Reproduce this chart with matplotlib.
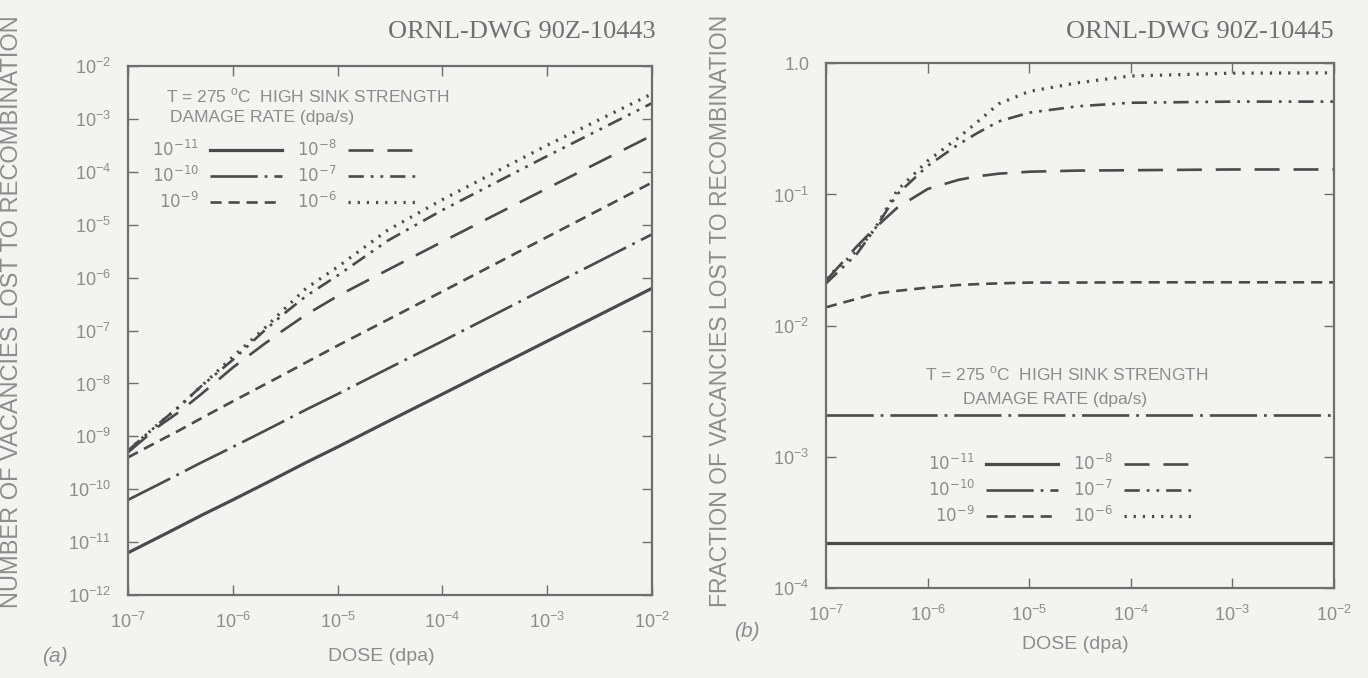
import math
import matplotlib
matplotlib.use("Agg")
import matplotlib.pyplot as plt
from matplotlib.ticker import FixedLocator, FuncFormatter, NullLocator

plt.rcParams['font.family'] = ['Liberation Sans', 'DejaVu Sans']
plt.rcParams['lines.scale_dashes'] = False

# ---------------- data ----------------
dose = [1e-7, 2e-7, 3e-7, 5e-7, 1e-6, 2e-6, 3e-6, 5e-6, 1e-5, 3e-5, 1e-4, 1e-3, 1e-2]

rate_labels = [r'$10^{-11}$', r'$10^{-10}$', r'$10^{-9}$', r'$10^{-8}$', r'$10^{-7}$', r'$10^{-6}$']

# (a) number of vacancies lost to recombination
n_1e11 = [6.3e-12, 1.26e-11, 1.9e-11, 3.2e-11, 6.3e-11, 1.26e-10, 1.9e-10, 3.2e-10, 6.3e-10, 1.9e-9, 6.3e-9, 6.3e-8, 6.3e-7]
n_1e10 = [6.3e-11, 1.26e-10, 1.9e-10, 3.2e-10, 6.3e-10, 1.26e-9, 1.9e-9, 3.2e-9, 6.3e-9, 1.9e-8, 6.3e-8, 6.5e-7, 6.6e-6]
n_1e9 = [4.0e-10, 8.3e-10, 1.26e-9, 2.2e-9, 4.6e-9, 9.5e-9, 1.45e-8, 2.5e-8, 5.2e-8, 1.6e-7, 5.5e-7, 5.9e-6, 6.3e-5]
n_1e8 = [5.0e-10, 1.6e-9, 2.8e-9, 6.3e-9, 2.0e-8, 5.6e-8, 1.0e-7, 2.0e-7, 4.5e-7, 1.4e-6, 4.8e-6, 4.9e-5, 4.9e-4]
n_1e7 = [5.4e-10, 1.8e-9, 3.5e-9, 8.9e-9, 2.8e-8, 1.0e-7, 2.0e-7, 4.5e-7, 1.1e-6, 5.0e-6, 1.9e-5, 2.0e-4, 2.0e-3]
n_1e6 = [5.4e-10, 1.8e-9, 3.5e-9, 8.9e-9, 3.2e-8, 1.1e-7, 2.4e-7, 6.3e-7, 1.6e-6, 7.9e-6, 3.0e-5, 3.2e-4, 3.0e-3]

# (b) fraction of vacancies lost to recombination
f_1e11 = [2.2e-4] * 13
f_1e10 = [2.1e-3] * 13
f_1e9 = [0.0138, 0.016, 0.0175, 0.0184, 0.0195, 0.0204, 0.0207, 0.021, 0.0213, 0.0213, 0.0214, 0.0214, 0.0214]
f_1e8 = [0.022, 0.040, 0.055, 0.079, 0.11, 0.129, 0.137, 0.144, 0.149, 0.152, 0.153, 0.155, 0.155]
f_1e7 = [0.021, 0.035, 0.054, 0.10, 0.165, 0.24, 0.29, 0.36, 0.42, 0.47, 0.50, 0.51, 0.51]
f_1e6 = [0.023, 0.037, 0.054, 0.107, 0.18, 0.27, 0.35, 0.49, 0.61, 0.71, 0.80, 0.84, 0.845]

x_ticks = [1e-7, 1e-6, 1e-5, 1e-4, 1e-3, 1e-2]
ya_ticks = [1e-12, 1e-11, 1e-10, 1e-9, 1e-8, 1e-7, 1e-6, 1e-5, 1e-4, 1e-3, 1e-2]
yb_ticks = [1e-4, 1e-3, 1e-2, 1e-1, 1.0]

# ---------------- style ----------------
BG = '#f3f3f1'
LINE = '#4a4a4a'
TXT = '#8c8c8c'
FRAME = '#6e6e6e'

styles = [
    dict(linestyle='-', linewidth=2.3),
    dict(dashes=(34, 5, 2, 5), linewidth=1.9),
    dict(dashes=(8, 5), linewidth=1.9),
    dict(dashes=(18, 10), linewidth=1.9),
    dict(dashes=(11, 5, 2, 5, 2, 5), linewidth=1.9),
    dict(dashes=(1.6, 5), linewidth=2.3),
]

fig = plt.figure(figsize=(13.68, 6.78), dpi=100, facecolor=BG)
axa = fig.add_axes([0.0936, 0.1224, 0.383, 0.780])
axb = fig.add_axes([0.6038, 0.1327, 0.3713, 0.774])


def sci(v, pos):
    e = int(round(math.log10(v)))
    return r'$\mathdefault{10^{%d}}$' % e


def sci_b(v, pos):
    if abs(v - 1.0) < 1e-9:
        return '1.0'
    return sci(v, pos)


for ax in (axa, axb):
    ax.set_facecolor(BG)
    ax.set_xscale('log')
    ax.set_yscale('log')
    for s in ax.spines.values():
        s.set_color(FRAME)
        s.set_linewidth(1.6)
    ax.tick_params(which='major', direction='in', length=7, width=1.0,
                   color=FRAME, labelcolor=TXT, labelsize=13, pad=12,
                   top=True, right=True)
    ax.xaxis.set_major_locator(FixedLocator(x_ticks))
    ax.xaxis.set_major_formatter(FuncFormatter(sci))
    ax.xaxis.set_minor_locator(NullLocator())
    ax.yaxis.set_minor_locator(NullLocator())
    ax.set_xlim(1e-7, 1e-2)

axa.set_ylim(1e-12, 1e-2)
axa.yaxis.set_major_locator(FixedLocator(ya_ticks))
axa.yaxis.set_major_formatter(FuncFormatter(sci))
axb.set_ylim(1e-4, 1.0)
axb.yaxis.set_major_locator(FixedLocator(yb_ticks))
axb.yaxis.set_major_formatter(FuncFormatter(sci_b))

series_a = [n_1e11, n_1e10, n_1e9, n_1e8, n_1e7, n_1e6]
series_b = [f_1e11, f_1e10, f_1e9, f_1e8, f_1e7, f_1e6]

handles_a = []
for vals, lab, st in zip(series_a, rate_labels, styles):
    h, = axa.plot(dose, vals, color=LINE, label=lab, **st)
    handles_a.append(h)
handles_b = []
for vals, lab, st in zip(series_b, rate_labels, styles):
    h, = axb.plot(dose, vals, color=LINE, label=lab, **st)
    handles_b.append(h)

leg_kw = dict(ncol=2, markerfirst=False, frameon=False, fontsize=12,
              labelcolor=TXT, handlelength=4.3, handletextpad=0.7,
              columnspacing=0.9, labelspacing=0.35, borderpad=0,
              borderaxespad=0)
axa.legend(handles=handles_a, loc='upper left', bbox_to_anchor=(0.045, 0.862), **leg_kw)
axb.legend(handles=handles_b, loc='upper left', bbox_to_anchor=(0.2, 0.258), **leg_kw)

hdr1 = r'T = 275 $^{\mathdefault{o}}$C  HIGH SINK STRENGTH'
hdr2 = 'DAMAGE RATE (dpa/s)'
axa.text(0.072, 0.943, hdr1, transform=axa.transAxes, color=TXT, fontsize=12.5, va='center', ha='left')
axa.text(0.08, 0.902, hdr2, transform=axa.transAxes, color=TXT, fontsize=12.5, va='center', ha='left')
axb.text(0.474, 0.408, hdr1, transform=axb.transAxes, color=TXT, fontsize=12.5, va='center', ha='center')
axb.text(0.45, 0.36, hdr2, transform=axb.transAxes, color=TXT, fontsize=12.5, va='center', ha='center')

# axis labels
fig.text(0.009, 0.541, 'NUMBER OF VACANCIES LOST TO RECOMBINATION', rotation=90,
         color=TXT, fontsize=17, ha='center', va='center')
fig.text(0.527, 0.541, 'FRACTION OF VACANCIES LOST TO RECOMBINATION', rotation=90,
         color=TXT, fontsize=16.5, ha='center', va='center')
fig.text(0.279, 0.031, 'DOSE (dpa)', color=TXT, fontsize=14, ha='center', va='center')
fig.text(0.786, 0.049, 'DOSE (dpa)', color=TXT, fontsize=14, ha='center', va='center')
fig.text(0.04, 0.031, '(a)', color=TXT, fontsize=15, style='italic', ha='center', va='center')
fig.text(0.546, 0.069, '(b)', color=TXT, fontsize=15, style='italic', ha='center', va='center')

# drawing numbers
fig.text(0.479, 0.953, 'ORNL-DWG 90Z-10443', family=['Liberation Serif'], color='#707070',
         fontsize=19, ha='right', va='center')
fig.text(0.975, 0.953, 'ORNL-DWG 90Z-10445', family=['Liberation Serif'], color='#707070',
         fontsize=19, ha='right', va='center')

fig.savefig('out.png', dpi=100, facecolor=BG)
